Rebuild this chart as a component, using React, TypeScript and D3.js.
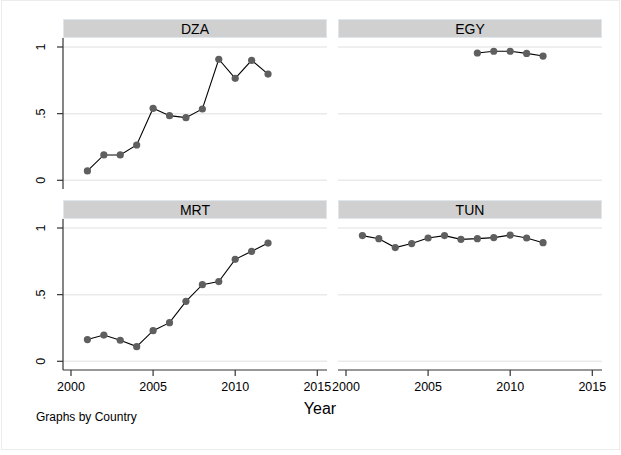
import React from "react";
import * as d3 from "d3";

const countries = ["DZA", "EGY", "MRT", "TUN"];
const yearsDZA = [2001, 2002, 2003, 2004, 2005, 2006, 2007, 2008, 2009, 2010, 2011, 2012];
const valuesDZA = [0.07, 0.19, 0.19, 0.265, 0.54, 0.485, 0.47, 0.535, 0.908, 0.765, 0.9, 0.797];
const yearsEGY = [2008, 2009, 2010, 2011, 2012];
const valuesEGY = [0.955, 0.968, 0.968, 0.952, 0.932];
const yearsMRT = [2001, 2002, 2003, 2004, 2005, 2006, 2007, 2008, 2009, 2010, 2011, 2012];
const valuesMRT = [0.163, 0.197, 0.158, 0.11, 0.23, 0.29, 0.45, 0.575, 0.598, 0.765, 0.825, 0.887];
const yearsTUN = [2001, 2002, 2003, 2004, 2005, 2006, 2007, 2008, 2009, 2010, 2011, 2012];
const valuesTUN = [0.943, 0.92, 0.853, 0.883, 0.925, 0.943, 0.915, 0.92, 0.928, 0.947, 0.925, 0.89];
const xTicks = [2000, 2005, 2010, 2015];
const yTicks = [0, 0.5, 1];
const yTickLabels = ["0", ".5", "1"];
const xTitle = "Year";
const note = "Graphs by Country";

const seriesYears = [yearsDZA, yearsEGY, yearsMRT, yearsTUN];
const seriesValues = [valuesDZA, valuesEGY, valuesMRT, valuesTUN];

const W = 621;
const H = 455;
const colX = [63, 338];
const panelW = 264;
const rowHeaderY = [19, 200];
const headerH = 19;
const plotBottomOffset = 170; // from header top to plot bottom
const font = "'Liberation Sans', Arial, sans-serif";

export default function App() {
  const panels = countries.map((c, i) => {
    const col = i % 2;
    const row = Math.floor(i / 2);
    const x0 = colX[col];
    const hy = rowHeaderY[row];
    const plotTop = hy + headerH;
    const plotBottom = hy + plotBottomOffset;
    const x = d3.scaleLinear().domain([2000, 2015]).range([x0 + 8, x0 + 254.3]);
    const y = d3.scaleLinear().domain([0, 1]).range([hy + 161.3, hy + 28]);
    const pts: [number, number][] = seriesYears[i].map((yr, k) => [x(yr), y(seriesValues[i][k])]);
    const line = d3.line()(pts) || "";
    return (
      <g key={c}>
        {yTicks.map((t) => (
          <line key={t} x1={x0} x2={x0 + panelW} y1={y(t)} y2={y(t)} stroke="#eaeaea" strokeWidth={1.5} />
        ))}
        <rect x={x0 + 0.5} y={hy + 0.5} width={panelW - 1} height={headerH - 1} fill="#d0d0d0" stroke="#dfe7ec" strokeWidth={1} />
        <text x={x0 + panelW / 2} y={hy + 14.5} textAnchor="middle" fontSize={14} fontFamily={font} fill="#000">
          {c}
        </text>
        {col === 0 && (
          <g>
            <line x1={x0} x2={x0} y1={plotTop} y2={plotBottom} stroke="#333" strokeWidth={1.2} />
            {yTicks.map((t, k) => (
              <g key={t}>
                <line x1={x0 - 6} x2={x0} y1={y(t)} y2={y(t)} stroke="#333" strokeWidth={1.2} />
                <text
                  transform={`translate(${x0 - 18},${y(t)}) rotate(-90)`}
                  textAnchor="middle"
                  fontSize={12.5}
                  fontFamily={font}
                  fill="#000"
                >
                  {yTickLabels[k]}
                </text>
              </g>
            ))}
          </g>
        )}
        {row === 1 && (
          <g>
            <line x1={x0} x2={x0 + panelW} y1={plotBottom} y2={plotBottom} stroke="#333" strokeWidth={1.2} />
            {xTicks.map((t) => (
              <g key={t}>
                <line x1={x(t)} x2={x(t)} y1={plotBottom} y2={plotBottom + 6} stroke="#333" strokeWidth={1.2} />
                <text x={x(t)} y={plotBottom + 21} textAnchor="middle" fontSize={12.5} fontFamily={font} fill="#000">
                  {t}
                </text>
              </g>
            ))}
          </g>
        )}
        <path d={line} fill="none" stroke="#000" strokeWidth={1.1} />
        {pts.map((p, k) => (
          <circle key={k} cx={p[0]} cy={p[1]} r={3.6} fill="#5f5f5f" />
        ))}
      </g>
    );
  });

  return (
    <div style={{ position: "fixed", left: 0, top: 0 }}>
      <svg width={W} height={H} style={{ display: "block", background: "#fff" }}>
        <rect x={1.5} y={0.5} width={618} height={449} fill="#fff" stroke="#ececec" strokeWidth={1} />
        {panels}
        <text x={320} y={414} textAnchor="middle" fontSize={16} fontFamily={font} fill="#000">
          {xTitle}
        </text>
        <text x={36} y={420.5} fontSize={12} fontFamily={font} fill="#000">
          {note}
        </text>
      </svg>
    </div>
  );
}
